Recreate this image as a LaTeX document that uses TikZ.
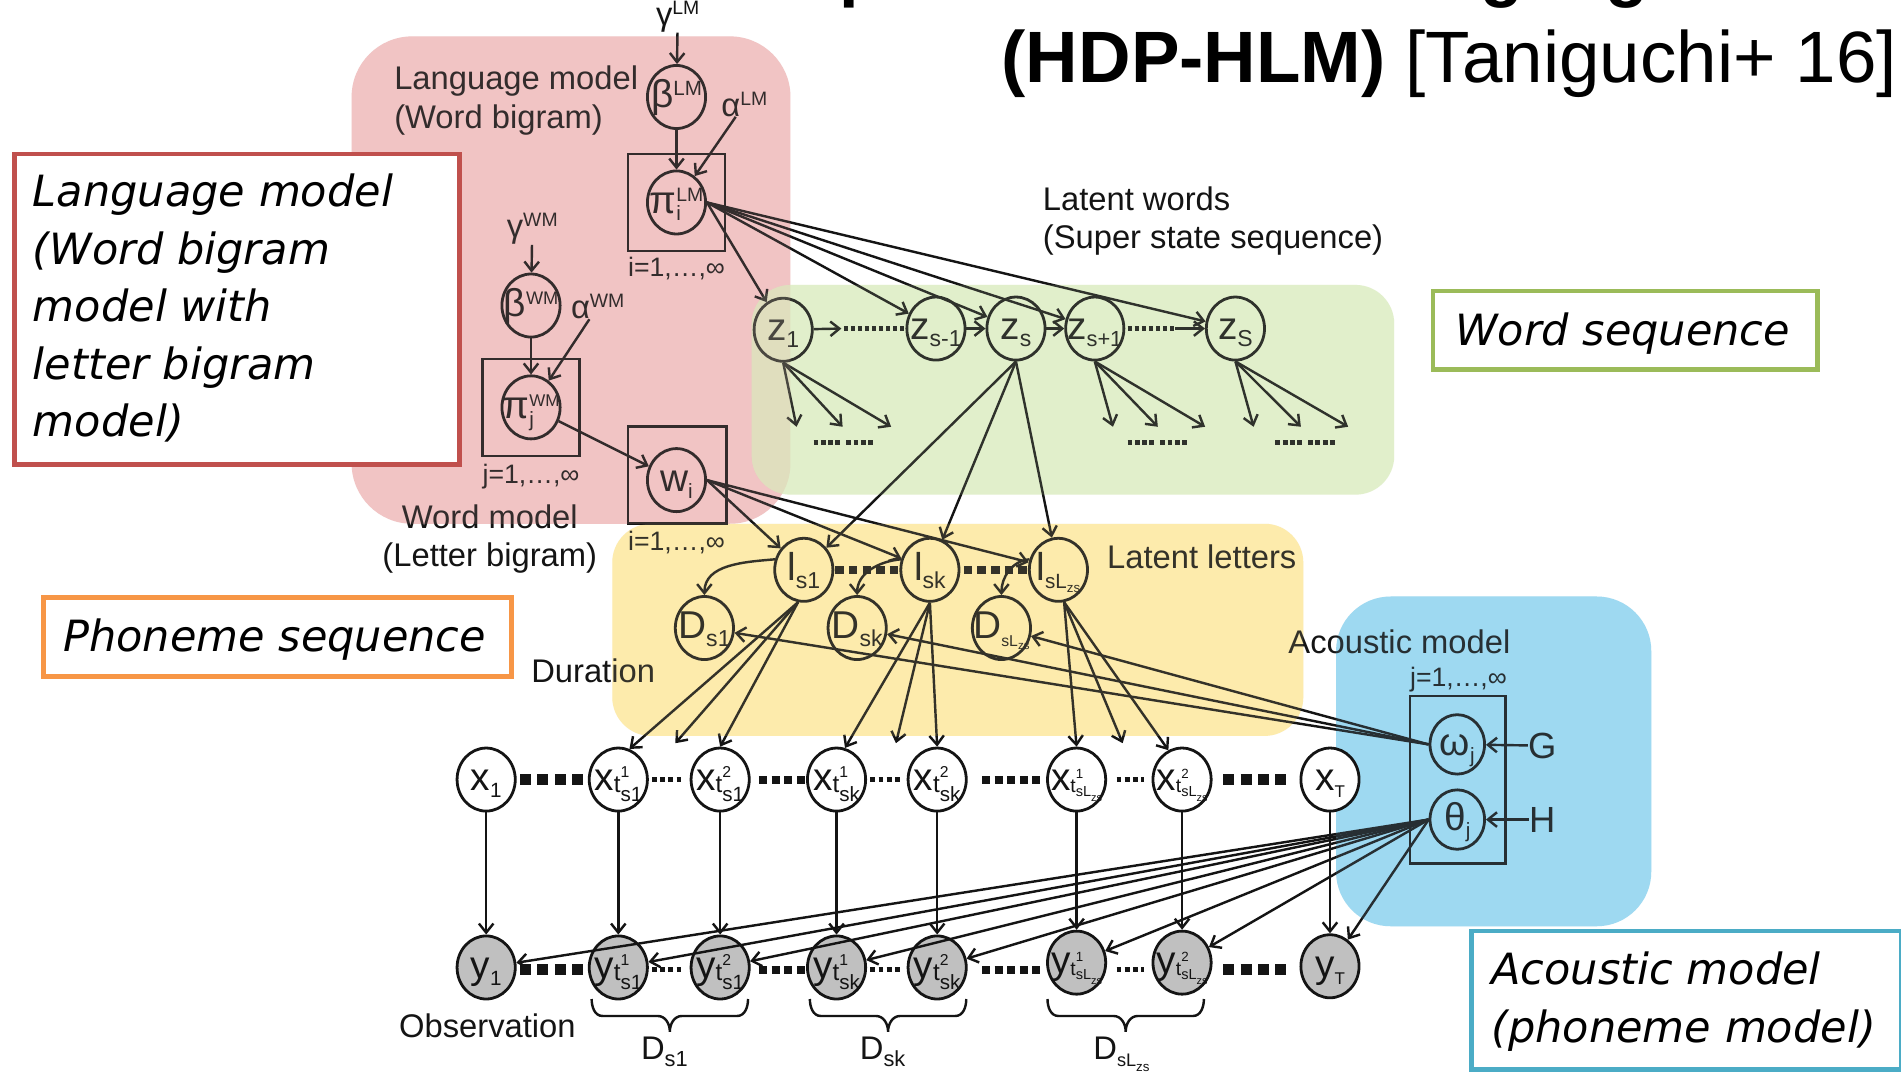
\documentclass[tikz,border=0pt]{standalone}
\usepackage{fontspec}
\setmainfont{Liberation Sans}
\newfontfamily\calloutfont{DejaVu Sans}
\usetikzlibrary{shapes.geometric,arrows.meta}

\definecolor{pinkbg}{RGB}{241,196,196}
\definecolor{greenbg}{RGB}{218,236,190}
\definecolor{yellowbg}{RGB}{253,235,172}
\definecolor{bluebg}{RGB}{158,217,241}
\definecolor{ink}{RGB}{20,20,20}
\definecolor{redframe}{RGB}{192,80,77}
\definecolor{greenframe}{RGB}{155,187,89}
\definecolor{orangeframe}{RGB}{247,150,70}
\definecolor{tealframe}{RGB}{75,172,198}
\definecolor{obsfill}{RGB}{192,192,192}

% lowered / raised index text: #1 shift (pt), #2 size (pt), #3 text
\newcommand{\lowtxt}[3]{\raisebox{-#1pt}{\fontsize{#2}{#2}\selectfont #3}}
\newcommand{\hightxt}[3]{\raisebox{#1pt}{\fontsize{#2}{#2}\selectfont #3}}
% label of a variable node: takes no room, so every node keeps its own size
\newcommand{\vl}[1]{\makebox[0pt]{\raisebox{-9pt}[0pt][0pt]{#1}}}
% frame-indexed variables: #1 letter, #2 upper index, #3 lower index
\newcommand{\tvar}[3]{\vl{#1\lowtxt{2}{20}{t}\rlap{\hightxt{11}{13}{#2}}\lowtxt{9}{17}{#3}}}
\newcommand{\tvarL}[2]{\vl{#1\lowtxt{2}{16}{t}\rlap{\hightxt{10}{11}{#2}}\lowtxt{5}{12}{sL}\lowtxt{9}{9}{zs}}}

\begin{document}
\begin{tikzpicture}[x=1pt,y=-1pt,
  var/.style={ellipse,draw=ink,line width=2.3pt,minimum width=48pt,minimum height=52pt,inner sep=0pt,font=\fontsize{32}{34}\selectfont,text=ink},
  obs/.style={var,fill=white},
  seen/.style={var,fill=obsfill},
  arr/.style={draw=ink,line width=2pt,-{Straight Barb[length=7.5pt,width=12pt]}},
  plate/.style={draw=ink,line width=2.2pt},
  lab/.style={inner sep=0pt,font=\fontsize{27}{31}\selectfont,text=ink},
  idx/.style={inner sep=0pt,font=\fontsize{22}{26}\selectfont,text=ink},
  callout/.style={draw=#1,line width=3.8pt,fill=white,anchor=north west,inner sep=0pt},
  calltext/.style={inner sep=0pt,anchor=base west,font=\calloutfont\itshape\fontsize{35.5}{40}\selectfont},
  bigdots/.style={draw=ink,line width=9pt,dash pattern=on 9pt off 5.33pt},
  middots/.style={draw=ink,line width=6.5pt,dash pattern=on 6.5pt off 4pt},
  midfive/.style={draw=ink,line width=6.5pt,dash pattern=on 6.5pt off 3.9pt},
  tinydots/.style={draw=ink,line width=4pt,dash pattern=on 4pt off 2.67pt},
  letterdots/.style={draw=ink,line width=7pt,dash pattern=on 7pt off 4.25pt},
  chaindots/.style={draw=ink,line width=3.4pt,dash pattern=on 3.4pt off 2.4pt},
  fandots/.style={draw=ink,line width=4pt,dash pattern=on 4pt off 2pt},
  brace/.style={draw=ink,line width=2pt},
  veil/.style={fill opacity=0.14}
]
\useasboundingbox (0,0) rectangle (1568,886);
\fill[white] (0,0) rectangle (1568,886);

% ---------- model regions ----------
\fill[pinkbg, rounded corners=50pt] (290,30) rectangle (652,432);
\fill[greenbg, fill opacity=0.75, rounded corners=32pt] (620,235) rectangle (1150,408);
\fill[yellowbg, rounded corners=32pt] (505,432) rectangle (1075,607);
\fill[bluebg, rounded corners=45pt] (1102,492) rectangle (1362,764);

% ---------- language model (word bigram) ----------
\node[lab] (gLM) at (559,14) {γ\hightxt{9}{16}{LM}};
\node[var] (bLM) at (558,80) {\vl{β\hightxt{10}{17}{LM}}};
\node[lab] (aLM) at (614,86) {α\hightxt{9}{16}{LM}};
\node[var] (pLM) at (558,167) {\vl{π\rlap{\lowtxt{6}{17}{i}}\hightxt{10}{16}{LM}}};
\draw[plate] (518,127) rectangle (598,207);
\node[idx,anchor=base] (iLM) at (558,228) {i=1,…,∞};
\node[lab,anchor=base west] (lmA) at (325,74) {Language model};
\node[lab,anchor=base west] (lmB) at (325,106) {(Word bigram)};

% ---------- word model (letter bigram) ----------
\node[lab] (gWM) at (439,189) {γ\hightxt{9}{16}{WM}};
\node[var] (bWM) at (438,252) {\vl{β\hightxt{10}{15}{WM}}};
\node[lab] (aWM) at (493,253) {α\hightxt{9}{16}{WM}};
\node[var] (pWM) at (438,336) {\vl{π\rlap{\lowtxt{7}{17}{j}}\hightxt{10}{14}{WM}}};
\draw[plate] (398,296) rectangle (478,376);
\node[idx,anchor=base] (jWM) at (438,399) {j=1,…,∞};
\node[var] (wi) at (558,396) {\vl{w\lowtxt{6}{17}{i}}};
\draw[plate] (518,352) rectangle (599,432);
\node[idx,anchor=base] (iW) at (558,454) {i=1,…,∞};
\node[lab,anchor=base] (wmA) at (404,436) {Word model};
\node[lab,anchor=base] (wmB) at (404,467) {(Letter bigram)};

% ---------- latent words ----------
\node[lab,anchor=base west] (lwA) at (860,174) {Latent words};
\node[lab,anchor=base west] (lwB) at (860,205) {(Super state sequence)};
\node[var] (z1)  at (646,272) {\vl{z\lowtxt{6}{19}{1}}};
\node[var] (zsm) at (772,271) {\vl{z\lowtxt{6}{19}{s-1}}};
\node[var] (zs)  at (838,271) {\vl{z\lowtxt{6}{19}{s}}};
\node[var] (zsp) at (903,271) {\vl{z\lowtxt{6}{18}{s+1}}};
\node[var] (zS)  at (1019,271) {\vl{z\lowtxt{6}{19}{S}}};

% ---------- latent letters and durations ----------
\node[var] (ls1) at (663,470) {\vl{l\lowtxt{6}{19}{s1}}};
\node[var] (lsk) at (767,470) {\vl{l\lowtxt{6}{19}{sk}}};
\node[var] (lsL) at (873,470) {\vl{l\lowtxt{6}{17}{sL}\lowtxt{10}{11}{zs}}};
\node[lab,anchor=base west] (llab) at (913,469) {Latent letters};
\node[var] (Ds1) at (581,518) {\vl{D\lowtxt{6}{19}{s1}}};
\node[var] (Dsk) at (707,518) {\vl{D\lowtxt{6}{19}{sk}}};
\node[var] (DsL) at (826,518) {\vl{D\lowtxt{6}{13}{sL}\lowtxt{9}{9.5}{zs}}};
\node[lab,anchor=base west] (dlab) at (438,563) {Duration};

% ---------- acoustic model ----------
\node[lab,anchor=base east] (amlab) at (1246,539) {Acoustic model};
\node[idx,anchor=base] (jAM) at (1203,566) {j=1,…,∞};
\draw[plate] (1163,574) rectangle (1242,712);
\node[var,minimum width=45pt,minimum height=49pt] (omega) at (1202,614) {\vl{ω\lowtxt{6}{17}{j}}};
\node[var,minimum width=45pt,minimum height=49pt] (theta) at (1202,676) {\vl{θ\lowtxt{6}{17}{j}}};
\node[lab,font=\fontsize{30}{32}\selectfont] (G) at (1272,615) {G};
\node[lab,font=\fontsize{30}{32}\selectfont] (H) at (1272,676) {H};

% ---------- frame sequence (the last frame comes after the tint) ----------
\node[obs] (x1)  at (401,643) {\vl{x\lowtxt{6}{17}{1}}};
\node[obs] (xa1) at (510,643) {\tvar{x}{1}{s1}};
\node[obs] (xa2) at (594,643) {\tvar{x}{2}{s1}};
\node[obs] (xb1) at (690,643) {\tvar{x}{1}{sk}};
\node[obs] (xb2) at (773,643) {\tvar{x}{2}{sk}};
\node[obs] (xc1) at (888,643) {\tvarL{x}{1}};
\node[obs] (xc2) at (975,643) {\tvarL{x}{2}};

\node[seen] (y1)  at (401,798) {\vl{y\lowtxt{6}{17}{1}}};
\node[seen] (ya1) at (510,798) {\tvar{y}{1}{s1}};
\node[seen] (ya2) at (594,798) {\tvar{y}{2}{s1}};
\node[seen] (yb1) at (690,798) {\tvar{y}{1}{sk}};
\node[seen] (yb2) at (773,798) {\tvar{y}{2}{sk}};
\node[seen] (yc1) at (888,794) {\tvarL{y}{1}};
\node[seen] (yc2) at (975,794) {\tvarL{y}{2}};
\node[seen] (yT)  at (1097,797) {\vl{y\lowtxt{6}{14}{T}}};

% ---------- edges: hyperparameters ----------
\draw[arr] (gLM) -- (bLM);
\draw[arr] (bLM) -- (pLM);
\draw[arr] (aLM) -- (pLM);
\draw[arr] (gWM) -- (bWM);
\draw[arr] (bWM) -- (pWM);
\draw[arr] (aWM) -- (pWM);
\draw[arr] (pWM) -- (wi);

% word transitions
\foreach \t in {z1,zsm,zs,zsp,zS} \draw[arr] (pLM.east) -- (\t);
\coordinate (ca) at (694,271);
\coordinate (cb) at (969,271);
\draw[arr] (z1) -- (ca);
\draw[chaindots,shorten <=2pt] (ca) -- (zsm);
\draw[arr] (zsm) -- (zs);
\draw[arr] (zs) -- (zsp);
\draw[chaindots,shorten <=2pt] (zsp) -- (cb);
\draw[arr] (cb) -- (zS);

% letters emitted by each word
\coordinate (fa1) at (657,352); \coordinate (fa2) at (695,352); \coordinate (fa3) at (735,352);
\coordinate (fb1) at (918,352); \coordinate (fb2) at (955,352); \coordinate (fb3) at (994,352);
\coordinate (fc1) at (1034,352); \coordinate (fc2) at (1073,352); \coordinate (fc3) at (1112,352);
\foreach \c in {fa1,fa2,fa3} \draw[arr] (z1.south) -- (\c);
\foreach \c in {fb1,fb2,fb3} \draw[arr] (zsp.south) -- (\c);
\foreach \c in {fc1,fc2,fc3} \draw[arr] (zS.south) -- (\c);
\foreach \a in {671,698,930,957,1052,1079} \draw[fandots] (\a,365) -- ++(22,0);
\foreach \t in {ls1,lsk,lsL} \draw[arr] (zs.south) -- (\t);
\foreach \t in {ls1,lsk,lsL} \draw[arr] (wi.east) -- (\t);

% letter chain and durations
\draw[letterdots] (689,470) -- (741,470);
\draw[letterdots] (795,470) -- (847,470);
\draw[arr] (ls1.160) to[out=185,in=90] (Ds1.north);
\draw[arr] (lsk.160) to[out=185,in=90] (Dsk.north);
\draw[arr] (lsL.160) to[out=185,in=90] (DsL.north);
\foreach \d in {Ds1,Dsk,DsL} \draw[arr] (omega.west) -- (\d);

% letters emit frames
\coordinate (ma) at (557,613);
\coordinate (mb) at (739,613);
\coordinate (mc) at (926,613);
\draw[arr] (ls1.-100) -- (xa1.70);
\draw[arr] (ls1.-100) -- (ma);
\draw[arr] (ls1.-100) -- (xa2.north);
\draw[arr] (lsk.south) -- (xb1.75);
\draw[arr] (lsk.south) -- (mb);
\draw[arr] (lsk.south) -- (xb2.north);
\draw[arr] (lsL.-80) -- (xc1.north);
\draw[arr] (lsL.-80) -- (mc);
\draw[arr] (lsL.-80) -- (xc2.115);

% emission parameters
\draw[arr] (G) -- (omega);
\draw[arr] (H) -- (theta);
\foreach \d in {y1,ya1,ya2,yb1,yb2,yc1,yc2,yT} \draw[arr] (theta.west) -- (\d);

% ---------- region tint over lines and labels ----------
\fill[pinkbg,veil,rounded corners=50pt] (290,30) rectangle (652,432);
\fill[greenbg,veil,rounded corners=32pt] (620,235) rectangle (1150,408);
\fill[yellowbg,veil,rounded corners=32pt] (505,432) rectangle (1075,607);
\fill[bluebg,veil,rounded corners=45pt] (1102,492) rectangle (1362,764);

% ---------- frame chains ----------
\node[obs] (xT)  at (1097,643) {\vl{x\lowtxt{6}{14}{T}}};
\foreach \n in {1,a1,a2,b1,b2,c1,c2,T} \draw[arr] (x\n) -- (y\n);
\foreach \yy in {643,800}{
  \draw[bigdots]  (429,\yy) -- (481,\yy);
  \draw[tinydots] (538,\yy) -- (562,\yy);
  \draw[middots]  (626,\yy) -- (664,\yy);
  \draw[tinydots] (718,\yy) -- (742,\yy);
  \draw[midfive]  (810,\yy) -- (858,\yy);
  \draw[tinydots] (921,\yy) -- (944,\yy);
  \draw[bigdots]  (1009,\yy) -- (1061,\yy);
}

% duration braces
\foreach \a/\b in {488/617,668/797,864/993}{
  \pgfmathsetmacro\m{(\a+\b)/2}
  \draw[brace] (\a,824) to[out=-90,in=180] (\a+9,838) -- (\m-10,838)
    to[out=0,in=90] (\m,851) to[out=90,in=180] (\m+10,838)
    -- (\b-9,838) to[out=0,in=-90] (\b,824);
}
\node[lab,anchor=base] (bd1) at (548,874) {D\lowtxt{6}{18}{s1}};
\node[lab,anchor=base] (bd2) at (728,874) {D\lowtxt{6}{18}{sk}};
\node[lab,anchor=base] (bd3) at (925,874) {D\lowtxt{6}{15}{sL}\lowtxt{10}{11}{zs}};
\node[lab,anchor=base west] (olab) at (329,856) {Observation};

% ---------- callouts ----------
\node[callout=redframe,minimum width=367pt,minimum height=256pt] (cLM) at (10,125) {};
\node[calltext] at (27,170) {Language model};
\node[calltext] at (27,218) {(Word bigram};
\node[calltext] at (27,265) {model with};
\node[calltext] at (27,313) {letter bigram};
\node[calltext] at (27,360) {model)};

\node[callout=greenframe,minimum width=317pt,minimum height=65pt] (cWS) at (1180,238) {};
\node[calltext] at (1200,285) {Word sequence};

\node[callout=orangeframe,minimum width=386pt,minimum height=65pt] (cPS) at (34,491) {};
\node[calltext] at (52,537) {Phoneme sequence};

\node[callout=tealframe,minimum width=354pt,minimum height=114pt] (cAM) at (1212,766) {};
\node[calltext] at (1230,812) {Acoustic model};
\node[calltext] at (1230,860) {(phoneme model)};

% ---------- title ----------
\begin{scope}
  \clip (0,0) rectangle (1568,886);
  \node[anchor=base west,inner sep=0pt,font=\fontsize{58}{60}\selectfont\bfseries] (titletop) at (96,-5) {Hierarchical Dirichlet process hidden language model};
\end{scope}
\node[anchor=base east,inner sep=0pt,font=\fontsize{60}{62}\selectfont] (title) at (1565,68) {\textbf{(HDP-HLM)} [Taniguchi+ 16]};
\end{tikzpicture}
\end{document}
